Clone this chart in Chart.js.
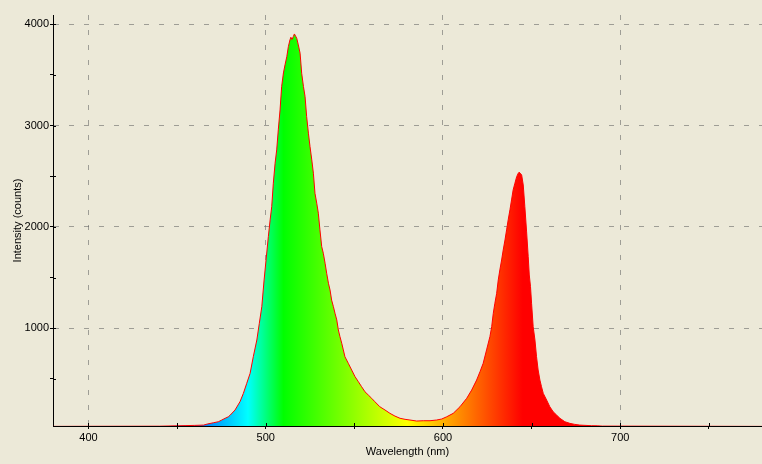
<!DOCTYPE html>
<html>
<head>
<meta charset="utf-8">
<script src="https://cdn.jsdelivr.net/npm/chart.js@4.4.1/dist/chart.umd.min.js"></script>
<style>
  html, body { margin: 0; padding: 0; background: #ECE9D8; }
  #wrap { width: 762px; height: 464px; position: relative; }
</style>
</head>
<body>
<div id="wrap"><canvas id="chartSpectrum"></canvas></div>
<script>
// === Datos del espectro ===
const wavelengths = [
  380, 400, 440, 450, 455, 460, 465, 467, 470.5, 473.3, 475.2, 477.1, 478.9,
  480, 482.7, 485.5, 487.4, 489.3, 491.2, 493, 495, 496.4, 497.8, 499.1, 500.2,
  501.5, 502.5, 503.4, 504.3, 505.3, 506.2, 507.1, 508.1, 509, 510, 510.9, 511.9,
  512.8, 513.7, 514.2, 514.9, 515.6, 516.2, 517.5, 518.4, 519.4, 520.3, 521.3,
  522.2, 523.1, 524.1, 525, 526, 526.9, 527.8, 528.8, 529.7, 530.6, 531.6, 532.5,
  533.5, 534.4, 535.4, 536.3, 537.2, 538.2, 539.1, 540.1, 541, 541.9, 542.9,
  543.8, 544.7, 546.6, 548.5, 550.4, 552.3, 554.1, 556, 557.9, 559.8, 561.6,
  564.4, 567.3, 570.1, 572.9, 575.8, 578.6, 581.4, 585.2, 588.9, 592.7, 596.4,
  599.3, 602.1, 605.8, 609.6, 613.4, 616.2, 619, 620.9, 622.7, 624.6, 626.5,
  627.5, 628.4, 629.3, 630.3, 631.2, 632.1, 633.1, 634, 635, 635.9, 636.8, 637.8,
  638.7, 639.6, 640.6, 641.6, 642.5, 643, 643.6, 644.4, 645.3, 646.2, 647.2,
  648.1, 648.7, 649.4, 650, 650.9, 651.9, 652.8, 653.7, 654.7, 655.6, 656.6,
  658.5, 660.3, 662.2, 664.1, 666, 668.8, 671.6, 674.4, 677.2, 683.8, 687, 690, 780
];
const counts = [
  30, 31, 32, 36, 38, 40, 43, 53, 66, 76, 93, 110, 125,
  142, 192, 274, 356, 455, 554, 718, 883, 1048, 1212, 1476, 1673,
  1904, 2069, 2200, 2431, 2629, 2760, 2958, 3155, 3385, 3520, 3600, 3680,
  3781, 3847, 3872, 3850, 3880, 3905, 3863, 3797, 3715, 3517, 3385,
  3287, 3089, 2925, 2793, 2661, 2530, 2332, 2234, 2135, 1970, 1805, 1740,
  1641, 1542, 1443, 1377, 1277, 1212, 1147, 1081, 982, 916, 851,
  785, 718, 653, 587, 521, 471, 422, 372, 340, 307, 274,
  224, 192, 159, 132, 110, 100, 93, 83, 86, 86, 93,
  103, 125, 159, 224, 307, 389, 488, 570, 653, 785, 916,
  1015, 1147, 1246, 1344, 1476, 1575, 1673, 1772, 1871, 1970, 2069, 2168,
  2266, 2365, 2431, 2496, 2530, 2540, 2530, 2513, 2414, 2200, 1950,
  1706, 1525, 1410, 1246, 1015, 883, 718, 587, 488, 422, 356,
  290, 224, 175, 142, 110, 76, 60, 50, 43, 37, 36, 33, 30
];
const xTicks = [400, 450, 500, 550, 600, 650, 700, 750];
const yTicks = [500, 1000, 1500, 2000, 2500, 3000, 3500, 4000];
const xMin = 380, xMax = 780;
const yMin = 34, yMax = 4092;

// colores del espectro visible por longitud de onda
const spectrumStops = [
  [380, "#ff00ff"], [440, "#0000ff"], [490, "#00ffff"], [510, "#00ff00"],
  [580, "#ffff00"], [645, "#ff0000"], [780, "#ff0000"],
];

const gridGray = "rgba(95, 95, 95, 0.55)";
const font = { family: "'Liberation Sans', Arial, sans-serif", size: 11 };

// marcas cortas hacia dentro del área (como en el original)
const innerTicks = {
  id: "innerTicks",
  afterDraw(chart) {
    const { ctx, scales } = chart;
    ctx.save();
    ctx.strokeStyle = "#000";
    ctx.lineWidth = 1;
    ctx.beginPath();
    scales.x.ticks.forEach((t) => {
      const px = Math.round(scales.x.getPixelForValue(t.value)) + 0.5;
      ctx.moveTo(px, scales.x.top);
      ctx.lineTo(px, scales.x.top - 3);
    });
    scales.y.ticks.forEach((t) => {
      const py = Math.round(scales.y.getPixelForValue(t.value)) + 0.5;
      ctx.moveTo(scales.y.right, py);
      ctx.lineTo(scales.y.right + 3, py);
    });
    ctx.stroke();
    ctx.restore();
  },
};

new Chart(document.getElementById("chartSpectrum"), {
  type: "line",
  data: {
    datasets: [
      {
        data: wavelengths.map((w, i) => ({ x: w, y: counts[i] })),
        borderColor: "#ff0000",
        borderWidth: 1,
        pointRadius: 0,
        tension: 0,
        fill: "start",
        backgroundColor: (c) => {
          const chart = c.chart;
          if (!chart.chartArea) return "rgba(0,0,0,0)";
          const xs = chart.scales.x;
          const g = chart.ctx.createLinearGradient(xs.left, 0, xs.right, 0);
          spectrumStops.forEach(([nm, col]) => {
            g.addColorStop((xs.getPixelForValue(nm) - xs.left) / (xs.right - xs.left), col);
          });
          return g;
        },
      },
    ],
  },
  options: {
    responsive: true,
    maintainAspectRatio: false,
    animation: false,
    layout: { padding: { top: 15, right: 0, left: 0, bottom: 0 } },
    plugins: { legend: { display: false }, tooltip: { enabled: false } },
    scales: {
      x: {
        type: "linear",
        min: xMin,
        max: xMax,
        z: 1,
        afterFit: (s) => { s.height = 38; },
        afterBuildTicks: (s) => { s.ticks = xTicks.map((v) => ({ value: v })); },
        border: { display: true, color: "#000", width: 1, dash: [5, 10] },
        grid: {
          color: (c) => (c.tick && c.tick.value % 100 === 0 ? gridGray : "rgba(0,0,0,0)"),
          tickColor: "#000",
          tickLength: 3,
        },
        ticks: {
          autoSkip: false,
          maxRotation: 0,
          padding: 2,
          color: "#000",
          font: font,
          callback: (v) => (v % 100 === 0 ? v : ""),
        },
        title: { display: true, text: "Wavelength (nm)", color: "#000", font: font, padding: { top: 0, bottom: 5 } },
      },
      y: {
        min: yMin,
        max: yMax,
        z: 1,
        afterFit: (s) => { s.width = 53; },
        afterBuildTicks: (s) => { s.ticks = yTicks.map((v) => ({ value: v })); },
        border: { display: true, color: "#000", width: 1, dash: [5, 10] },
        grid: {
          color: (c) => (c.tick && c.tick.value % 1000 === 0 ? gridGray : "rgba(0,0,0,0)"),
          tickColor: "#000",
          tickLength: 3,
        },
        ticks: {
          autoSkip: false,
          padding: 1,
          color: "#000",
          font: font,
          callback: (v) => (v % 1000 === 0 ? v : ""),
        },
        title: { display: true, text: "Intensity (counts)", color: "#000", font: font, padding: { top: 11, bottom: 0 } },
      },
    },
  },
  plugins: [innerTicks],
});
</script>
</body>
</html>
